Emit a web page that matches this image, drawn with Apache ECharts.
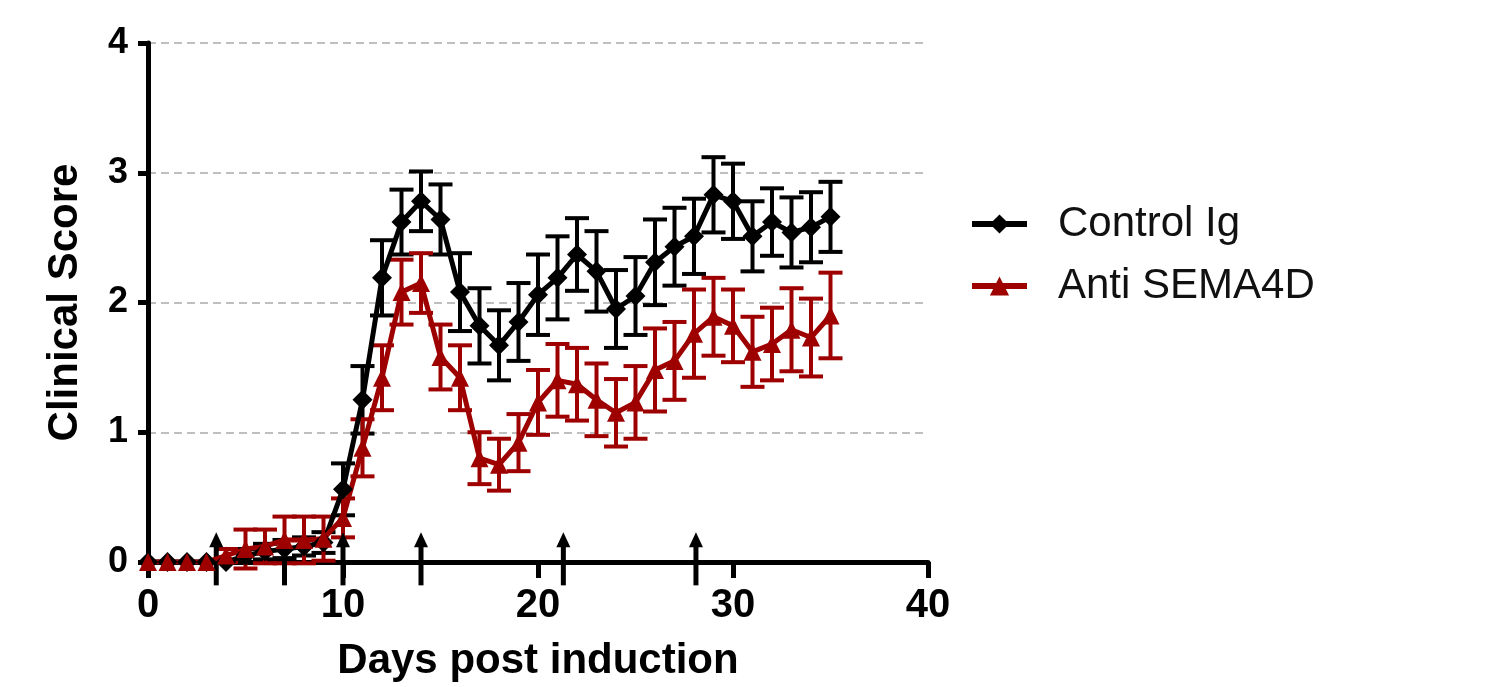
<!DOCTYPE html>
<html>
<head>
<meta charset="utf-8">
<script src="https://cdn.jsdelivr.net/npm/echarts@6/dist/echarts.min.js"></script>
<style>
  html, body { margin: 0; padding: 0; background: #fff; }
  #chart { width: 1499px; height: 687px; }
</style>
</head>
<body>
<div id="chart"></div>
<script>
// days post induction
const days = [0, 1, 2, 3, 4, 5, 6, 7, 8, 9, 10, 11, 12, 13, 14, 15, 16, 17,
  18, 19, 20, 21, 22, 23, 24, 25, 26, 27, 28, 29, 30, 31, 32, 33, 34, 35]
// Control Ig mean / SEM
const controlMean = [0, 0, 0, 0, 0, 0.05, 0.08, 0.1, 0.12, 0.15, 0.56, 1.25, 2.19, 2.62, 2.78, 2.64, 2.08, 1.82,
  1.67, 1.85, 2.06, 2.19, 2.37, 2.24, 1.95, 2.05, 2.31, 2.43, 2.51, 2.83, 2.78, 2.51, 2.62, 2.54, 2.58, 2.66]
const controlSem = [0, 0, 0, 0, 0, 0.05, 0.06, 0.07, 0.07, 0.08, 0.2, 0.26, 0.29, 0.25, 0.23, 0.27, 0.3, 0.29,
  0.27, 0.3, 0.31, 0.32, 0.28, 0.31, 0.3, 0.3, 0.33, 0.3, 0.29, 0.29, 0.29, 0.27, 0.26, 0.27, 0.27, 0.27]
// Anti SEMA4D mean / SEM
const antiMean = [0, 0, 0, 0, 0.05, 0.1, 0.12, 0.17, 0.17, 0.18, 0.34, 0.88, 1.42, 2.08, 2.15, 1.58, 1.42, 0.8,
  0.75, 0.92, 1.23, 1.4, 1.37, 1.25, 1.15, 1.23, 1.48, 1.55, 1.76, 1.89, 1.82, 1.62, 1.68, 1.79, 1.73, 1.9]
const antiSem = [0, 0, 0, 0, 0.05, 0.15, 0.13, 0.18, 0.18, 0.17, 0.15, 0.22, 0.25, 0.25, 0.23, 0.25, 0.25, 0.2,
  0.2, 0.22, 0.25, 0.28, 0.28, 0.28, 0.26, 0.28, 0.32, 0.3, 0.34, 0.3, 0.28, 0.27, 0.28, 0.32, 0.3, 0.33]
// treatment arrows (days) and their extent on the score scale
const arrowDays = [3.5, 7, 10, 14, 21.3, 28.1]
const arrowTop = 0.23
const arrowBottom = -0.18

const fontName = 'Liberation Sans'
const red = '#9e0000'

const chart = echarts.init(document.getElementById('chart'))

// 误差棒
function errorBars (color) {
  return function (params, api) {
    const x = api.value(0)
    const lo = api.coord([x, api.value(1)])
    const hi = api.coord([x, api.value(2)])
    if (hi[1] === lo[1]) return null
    const hw = 12
    const style = { stroke: color, lineWidth: 4 }
    return {
      type: 'group',
      children: [
        { type: 'line', shape: { x1: lo[0], y1: lo[1], x2: hi[0], y2: hi[1] }, style },
        { type: 'line', shape: { x1: hi[0] - hw, y1: hi[1], x2: hi[0] + hw, y2: hi[1] }, style },
        { type: 'line', shape: { x1: lo[0] - hw, y1: lo[1], x2: lo[0] + hw, y2: lo[1] }, style }
      ]
    }
  }
}

function arrows (params, api) {
  const x = api.value(0)
  const tip = api.coord([x, arrowTop])
  const bottom = api.coord([x, arrowBottom])
  return {
    type: 'group',
    children: [
      { type: 'line', shape: { x1: bottom[0], y1: bottom[1], x2: tip[0], y2: tip[1] + 10 }, style: { stroke: '#000', lineWidth: 5 } },
      { type: 'polygon', shape: { points: [[tip[0], tip[1]], [tip[0] - 7, tip[1] + 15], [tip[0] + 7, tip[1] + 15]] }, style: { fill: '#000' } }
    ]
  }
}

const controlLine = days.map((d, i) => [d, controlMean[i]])
const controlErr = days.map((d, i) => [d, controlMean[i] - controlSem[i], controlMean[i] + controlSem[i]])
const antiLine = days.map((d, i) => [d, antiMean[i]])
const antiErr = days.map((d, i) => [d, antiMean[i] - antiSem[i], antiMean[i] + antiSem[i]])

const option = {
  animation: false,
  backgroundColor: '#fff',
  grid: { left: 148, right: 571, top: 43, bottom: 124 },
  legend: {
    data: ['Control Ig', 'Anti SEMA4D'],
    orient: 'vertical',
    left: 964,
    top: 196,
    itemWidth: 55,
    itemHeight: 24,
    itemGap: 16,
    lineStyle: { width: 6 },
    textStyle: {
      fontFamily: fontName,
      fontSize: 42,
      lineHeight: 46,
      color: '#111',
      padding: [0, 0, 0, 26]
    }
  },
  xAxis: {
    type: 'value',
    min: 0,
    max: 40,
    interval: 10,
    name: 'Days post induction',
    nameLocation: 'middle',
    nameGap: 78,
    nameTextStyle: { fontFamily: fontName, fontWeight: 'bold', fontSize: 42, color: '#000' },
    axisLine: { lineStyle: { color: '#000', width: 5 } },
    axisTick: { length: 16, lineStyle: { color: '#000', width: 5 } },
    axisLabel: { fontFamily: fontName, fontWeight: 'bold', fontSize: 40, color: '#000', margin: 24 },
    splitLine: { show: false }
  },
  yAxis: {
    type: 'value',
    min: 0,
    max: 4,
    interval: 1,
    name: 'Clinical Score',
    nameLocation: 'middle',
    nameRotate: 90,
    nameGap: 62,
    nameTextStyle: { fontFamily: fontName, fontWeight: 'bold', fontSize: 42, color: '#000' },
    axisLine: { show: true, lineStyle: { color: '#000', width: 5 } },
    axisTick: { show: true, length: 10, lineStyle: { color: '#000', width: 5 } },
    axisLabel: { fontFamily: fontName, fontWeight: 'bold', fontSize: 36, color: '#000', margin: 20 },
    splitLine: { show: true, lineStyle: { color: '#aaa', width: 1.5, type: [8, 5] } }
  },
  series: [
    {
      name: 'Control Ig err',
      type: 'custom',
      renderItem: errorBars('#000'),
      encode: { x: 0, y: [1, 2] },
      data: controlErr
    },
    {
      name: 'Control Ig',
      type: 'line',
      data: controlLine,
      symbol: 'diamond',
      symbolSize: 20,
      color: '#000',
      lineStyle: { color: '#000', width: 5 },
      itemStyle: { color: '#000' }
    },
    {
      name: 'Anti SEMA4D err',
      type: 'custom',
      renderItem: errorBars(red),
      encode: { x: 0, y: [1, 2] },
      data: antiErr
    },
    {
      name: 'Anti SEMA4D',
      type: 'line',
      data: antiLine,
      symbol: 'triangle',
      symbolSize: 18,
      color: red,
      lineStyle: { color: red, width: 5 },
      itemStyle: { color: red }
    },
    {
      name: 'arrows',
      type: 'custom',
      renderItem: arrows,
      encode: { x: 0 },
      data: arrowDays.map(d => [d])
    }
  ]
}

chart.setOption(option)
</script>
</body>
</html>
